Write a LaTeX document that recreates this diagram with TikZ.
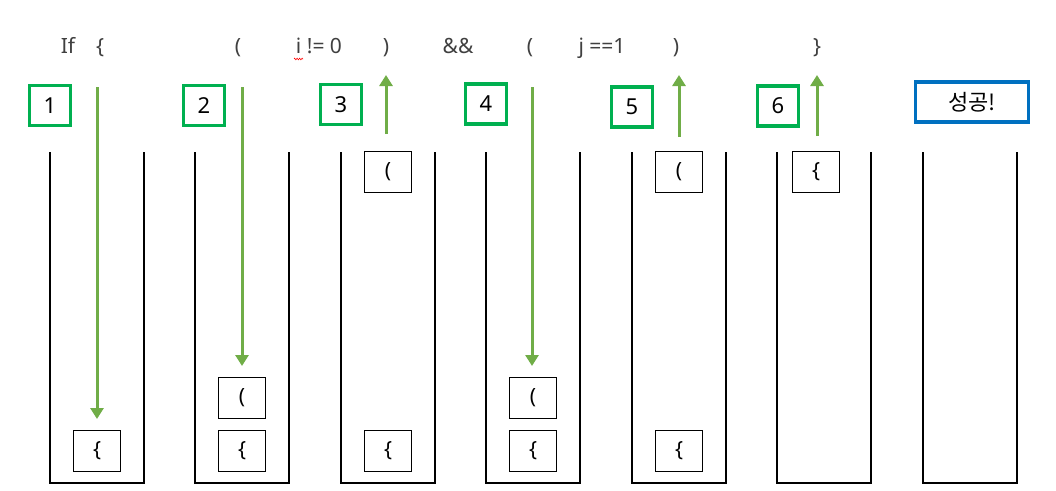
\documentclass[tikz,border=0pt]{standalone}
\usepackage{fontspec}
\setmainfont{Noto Sans}
\newfontfamily\kofont{Noto Sans CJK KR}
\usetikzlibrary{arrows.meta,decorations.pathmorphing}
\definecolor{gbox}{HTML}{00B050}
\definecolor{barrow}{HTML}{70AD47}
\definecolor{bluebox}{HTML}{0070C0}
\definecolor{codetxt}{HTML}{404040}
\tikzset{
  code/.style={text=codetxt,font=\fontsize{21}{24}\selectfont,inner sep=0pt,anchor=base},
  numbox/.style={draw=gbox,line width=3.5pt,minimum width=41pt,minimum height=40pt,inner sep=0pt,font=\fontsize{22}{26}\selectfont},
  okbox/.style={draw=bluebox,line width=3.5pt,minimum width=113pt,minimum height=40pt,inner sep=0pt,font=\kofont\fontsize{22}{26}\selectfont},
  item/.style={draw=black,line width=1.3pt,minimum width=47pt,minimum height=41pt,inner sep=0pt,font=\fontsize{21}{24}\selectfont},
  stackline/.style={draw=black,line width=1.3pt},
  push/.style={draw=barrow,line width=3pt,-{Triangle[width=13pt,length=11pt]}},
}
\begin{document}
\begin{tikzpicture}[x=1pt,y=-1pt]
\useasboundingbox (0,0) rectangle (1056,490);
% code row
\node[code] (tIf) at (68,53) {If};
\node[code] (tOb) at (100,53) {\{};
\node[code] (tOp1) at (238,53) {(};
\node[code] (tNe) at (319,53) {i != 0};
\node[code] (tCp1) at (386,53) {)};
\node[code] (tAnd) at (458,53) {\&\&};
\node[code] (tOp2) at (530,53) {(};
\node[code] (tEq) at (602,53) {j ==1};
\node[code] (tCp2) at (676,53) {)};
\node[code] (tCb) at (817,53) {\}};
\draw[red,line width=0.6pt,decorate,decoration={zigzag,segment length=2.5pt,amplitude=0.8pt}] (294,59) -- (303,59);
% step boxes
\node[numbox] (n1) at (50,105.5) {1};
\node[numbox] (n2) at (204,105.5) {2};
\node[numbox] (n3) at (341,104.5) {3};
\node[numbox] (n4) at (486,104) {4};
\node[numbox] (n5) at (632,107) {5};
\node[numbox] (n6) at (778,106) {6};
\node[okbox] (ok) at (972,102) {성공!};
% stacks
\foreach \i/\c in {1/97,2/242,3/388,4/533,5/679,6/824,7/970}{
  \draw[stackline] (\c-47,152) -- (\c-47,483) -- (\c+47,483) -- (\c+47,152);
}
% items
\node[item] (s1a) at (97,451) {\{};
\node[item] (s2a) at (242,451) {\{};
\node[item] (s2b) at (242,398) {(};
\node[item] (s3a) at (388,451) {\{};
\node[item] (s3t) at (388,172) {(};
\node[item] (s4a) at (533,451) {\{};
\node[item] (s4b) at (533,398) {(};
\node[item] (s5a) at (679,451) {\{};
\node[item] (s5t) at (679,172) {(};
\node[item] (s6t) at (816,172) {\{};
% arrows
\coordinate (a1s) at (97,87);  \coordinate (a1e) at (97,419);
\coordinate (a2s) at (242,87); \coordinate (a2e) at (242,366);
\coordinate (a3s) at (386,134); \coordinate (a3e) at (386,75);
\coordinate (a4s) at (532,87); \coordinate (a4e) at (532,366);
\coordinate (a5s) at (679,137); \coordinate (a5e) at (679,75);
\coordinate (a6s) at (817,136); \coordinate (a6e) at (817,75);
\draw[push] (a1s) -- (a1e);
\draw[push] (a2s) -- (a2e);
\draw[push] (a3s) -- (a3e);
\draw[push] (a4s) -- (a4e);
\draw[push] (a5s) -- (a5e);
\draw[push] (a6s) -- (a6e);
\end{tikzpicture}
\end{document}
